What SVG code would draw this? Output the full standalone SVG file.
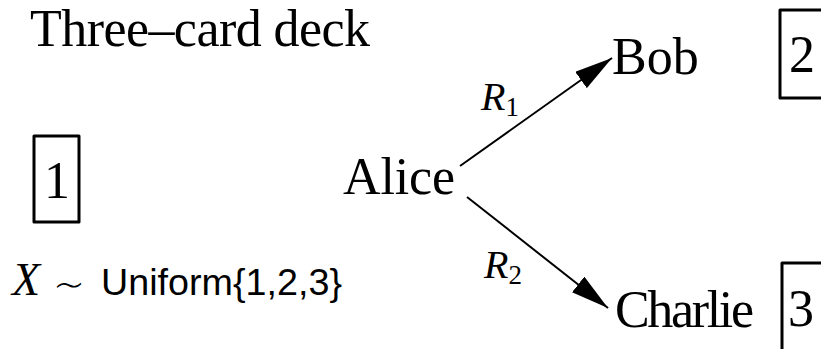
<svg xmlns="http://www.w3.org/2000/svg" width="821" height="349" viewBox="0 0 821 349">
<style>
.serif{font-family:"Liberation Serif","Times New Roman",serif;fill:#000}
.big{font-size:52px}
.it{font-style:italic}
.sans{font-family:"Liberation Sans",Arial,sans-serif;fill:#000}
.card{fill:none;stroke:#000;stroke-width:3;stroke-linejoin:round}
.edge{stroke:#000;stroke-width:2;fill:none}
</style>
<defs>
<marker id="ah" markerUnits="userSpaceOnUse" viewBox="0 0 38 20" markerWidth="38" markerHeight="20" refX="38" refY="10" orient="auto">
<path d="M0,0 L38,10 L0,20 z" fill="#000"/>
</marker>
</defs>
<rect width="821" height="349" fill="#fff"/>
<g id="title"><text class="serif big" x="30" y="46" textLength="340">Three–card deck</text></g>
<g id="card1"><rect class="card" x="34" y="136" width="45" height="86"/><text class="serif big" x="44" y="198">1</text></g>
<g id="dist"><text class="serif it" font-size="46" x="12" y="295">X</text><text font-family="'DejaVu Sans ExtraLight','DejaVu Sans',sans-serif" font-weight="200" font-size="42" x="53" y="300" textLength="32" lengthAdjust="spacingAndGlyphs">∼</text><text class="sans" font-size="37" x="101" y="295" textLength="241" lengthAdjust="spacingAndGlyphs">Uniform{1,2,3}</text></g>
<g id="alice"><text class="serif big" x="343" y="194" textLength="112">Alice</text></g>
<g id="bob"><text class="serif big" x="612" y="74">Bob</text></g>
<g id="card2"><rect class="card" x="780" y="10" width="48" height="88"/><text class="serif big" x="789" y="72">2</text></g>
<g id="charlie"><text class="serif big" x="615" y="327" textLength="139">Charlie</text></g>
<g id="card3"><rect class="card" x="782" y="263" width="46" height="90"/><text class="serif big" x="788" y="326">3</text></g>
<g id="connectors">
<line class="edge" x1="460" y1="166" x2="612" y2="58" marker-end="url(#ah)"/>
<line class="edge" x1="467" y1="197" x2="608" y2="308" marker-end="url(#ah)"/>
<text x="481" y="110" class="serif"><tspan class="it" font-size="40">R</tspan><tspan font-size="27" dy="6">1</tspan></text>
<text x="484" y="278" class="serif"><tspan class="it" font-size="40">R</tspan><tspan font-size="27" dy="6">2</tspan></text>
</g>
</svg>
